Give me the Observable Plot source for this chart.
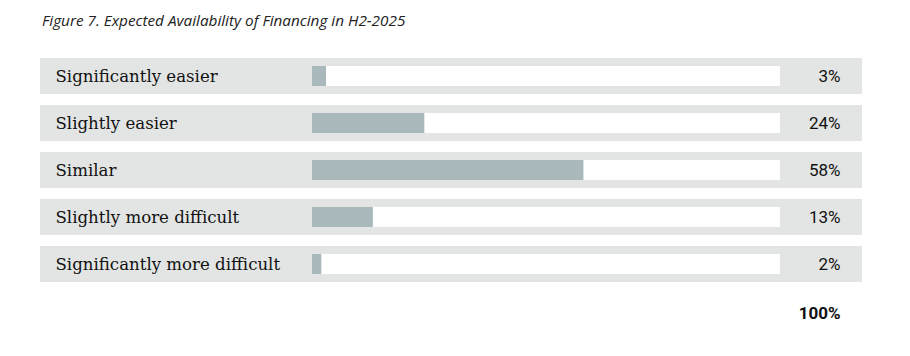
<!DOCTYPE html>
<html>
<head>
<meta charset="utf-8">
<script src="https://cdn.jsdelivr.net/npm/d3@7"></script>
<script src="https://cdn.jsdelivr.net/npm/@observablehq/plot@0.6"></script>
<style>
  html, body { margin: 0; padding: 0; background: #fff; }
  #title { height: 40px; line-height: 40px; padding-left: 42px; font-family: "Open Sans", sans-serif; font-style: italic; font-size: 15.3px; color: #222; }
  svg { display: block; }
</style>
</head>
<body>
<div id="title">Figure 7. Expected Availability of Financing in H2-2025</div>
<div id="chart"></div>
<script>
const categories = ["Significantly easier", "Slightly easier", "Similar", "Slightly more difficult", "Significantly more difficult"];
const values = [3, 24, 58, 13, 2];
const scaleMax = 100;

const rows = categories.map((c, i) => ({category: c, value: values[i]}));
const total = d3.sum(values);

const chart = Plot.plot({
  width: 910,
  height: 316,
  marginLeft: 40,
  marginRight: 48,
  marginTop: 0,
  marginBottom: 43,
  x: {domain: [0, scaleMax], range: [312, 780], axis: null},
  y: {domain: categories, range: [17, 243], paddingInner: 0.242, paddingOuter: 0, axis: null},
  marks: [
    Plot.cell(rows, {y: "category", fill: "#e3e5e4"}),
    Plot.barX(rows, {y: "category", x1: 0, x2: scaleMax, fill: "#ffffff", insetTop: 8, insetBottom: 8}),
    Plot.barX(rows, {y: "category", x: "value", fill: "#a9b9bb", insetTop: 8, insetBottom: 8}),
    Plot.text(rows, {y: "category", text: "category", frameAnchor: "left", textAnchor: "start", dx: 15, fontFamily: "DejaVu Serif", fontSize: 16.6, fill: "#111"}),
    Plot.text(rows, {y: "category", text: d => d.value + "%", frameAnchor: "right", textAnchor: "end", dx: -22, fontFamily: "Roboto", fontSize: 17, fill: "#111"}),
    Plot.text([total], {text: d => d + "%", frameAnchor: "bottom-right", textAnchor: "end", lineAnchor: "middle", dx: -22, fontFamily: "Roboto", fontWeight: "bold", fontSize: 17, fill: "#111"})
  ]
});
document.getElementById("chart").appendChild(chart);
</script>
</body>
</html>
